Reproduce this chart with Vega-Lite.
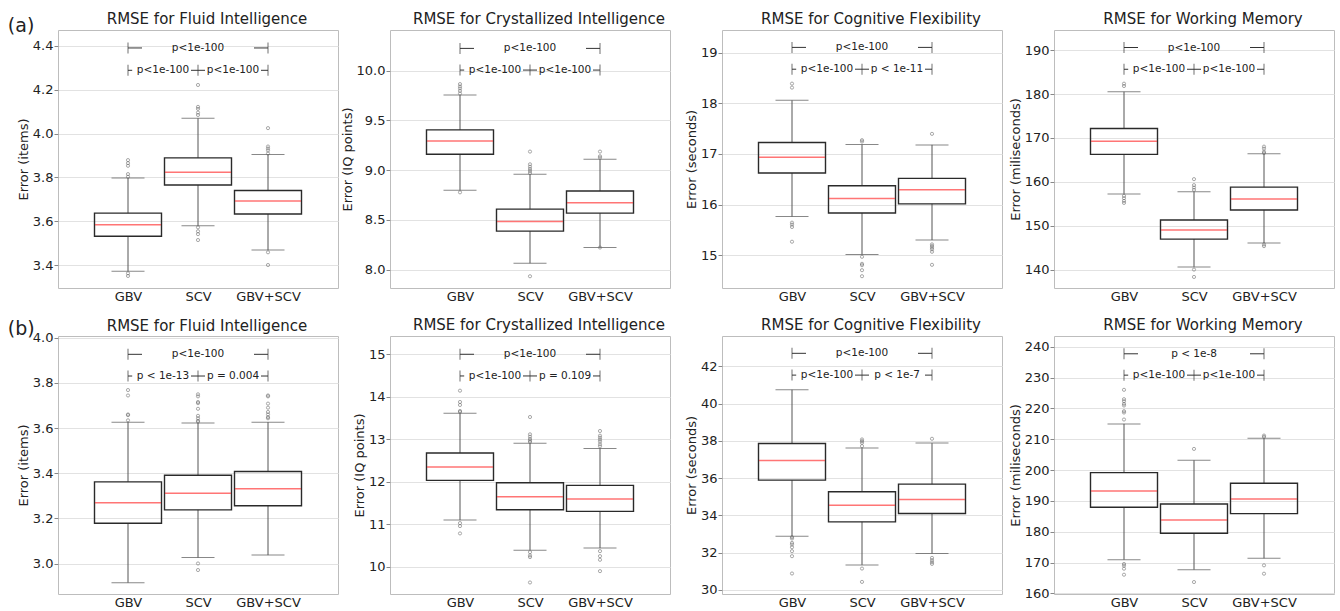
{
"$schema":"https://vega.github.io/schema/vega-lite/v6.json",
"padding":{"left":7,"top":11,"right":0,"bottom":0},
"spacing":13,
"config":{
 "font":"DejaVu Sans",
 "view":{"stroke":"#bdbdbd","strokeWidth":1},
 "axis":{"labelFont":"DejaVu Sans","labelFontSize":13,"labelColor":"#222","titleFont":"DejaVu Sans","titleFontSize":13,"titleFontWeight":"normal","titleColor":"#222","gridColor":"#e2e2e2","tickColor":"#888","tickSize":4,"domain":false,"titlePadding":2,"labelPadding":1,"labelOverlap":false,"tickCount":20},
 "title":{"font":"DejaVu Sans","fontSize":15,"fontWeight":"normal","color":"#222","offset":3,"baseline":"alphabetic"}
},
"datasets":{
"boxes":[
{"p":"a1","i":1,"method":"GBV","lo":3.371,"q1":3.531,"med":3.584,"q3":3.637,"hi":3.797},
{"p":"a1","i":2,"method":"SCV","lo":3.579,"q1":3.765,"med":3.824,"q3":3.889,"hi":4.070},
{"p":"a1","i":3,"method":"GBV+SCV","lo":3.468,"q1":3.633,"med":3.692,"q3":3.740,"hi":3.905},
{"p":"a2","i":1,"method":"GBV","lo":8.797,"q1":9.160,"med":9.294,"q3":9.405,"hi":9.755},
{"p":"a2","i":2,"method":"SCV","lo":8.064,"q1":8.387,"med":8.484,"q3":8.608,"hi":8.958},
{"p":"a2","i":3,"method":"GBV+SCV","lo":8.222,"q1":8.568,"med":8.672,"q3":8.790,"hi":9.109},
{"p":"a3","i":1,"method":"GBV","lo":15.762,"q1":16.623,"med":16.934,"q3":17.225,"hi":18.06},
{"p":"a3","i":2,"method":"SCV","lo":15.013,"q1":15.834,"med":16.119,"q3":16.371,"hi":17.185},
{"p":"a3","i":3,"method":"GBV+SCV","lo":15.298,"q1":16.013,"med":16.291,"q3":16.517,"hi":17.179},
{"p":"a4","i":1,"method":"GBV","lo":157.25,"q1":166.26,"med":169.24,"q3":172.14,"hi":180.53},
{"p":"a4","i":2,"method":"SCV","lo":140.61,"q1":146.95,"med":149.01,"q3":151.30,"hi":157.71},
{"p":"a4","i":3,"method":"GBV+SCV","lo":146.03,"q1":153.59,"med":156.11,"q3":158.78,"hi":166.41},
{"p":"b1","i":1,"method":"GBV","lo":2.916,"q1":3.179,"med":3.270,"q3":3.362,"hi":3.626},
{"p":"b1","i":2,"method":"SCV","lo":3.027,"q1":3.238,"med":3.312,"q3":3.391,"hi":3.622},
{"p":"b1","i":3,"method":"GBV+SCV","lo":3.038,"q1":3.256,"med":3.332,"q3":3.408,"hi":3.626},
{"p":"b2","i":1,"method":"GBV","lo":11.099,"q1":12.033,"med":12.347,"q3":12.677,"hi":13.611},
{"p":"b2","i":2,"method":"SCV","lo":10.392,"q1":11.342,"med":11.648,"q3":11.978,"hi":12.904},
{"p":"b2","i":3,"method":"GBV+SCV","lo":10.44,"q1":11.303,"med":11.593,"q3":11.915,"hi":12.786},
{"p":"b3","i":1,"method":"GBV","lo":32.883,"q1":35.892,"med":36.949,"q3":37.862,"hi":40.746},
{"p":"b3","i":2,"method":"SCV","lo":31.343,"q1":33.653,"med":34.549,"q3":35.265,"hi":37.612},
{"p":"b3","i":3,"method":"GBV+SCV","lo":31.952,"q1":34.101,"med":34.853,"q3":35.677,"hi":37.88},
{"p":"b4","i":1,"method":"GBV","lo":170.93,"q1":187.93,"med":193.23,"q3":199.19,"hi":214.99},
{"p":"b4","i":2,"method":"SCV","lo":167.69,"q1":179.49,"med":183.82,"q3":189.01,"hi":203.19},
{"p":"b4","i":3,"method":"GBV+SCV","lo":171.37,"q1":185.87,"med":190.64,"q3":195.72,"hi":210.34}
],
"outliers":[
{"p":"a1","i":1,"v":3.879},{"p":"a1","i":1,"v":3.865},{"p":"a1","i":1,"v":3.853},{"p":"a1","i":1,"v":3.815},{"p":"a1","i":1,"v":3.803},{"p":"a1","i":1,"v":3.362},{"p":"a1","i":1,"v":3.35},
{"p":"a1","i":2,"v":4.222},{"p":"a1","i":2,"v":4.122},{"p":"a1","i":2,"v":4.113},{"p":"a1","i":2,"v":4.096},{"p":"a1","i":2,"v":4.085},{"p":"a1","i":2,"v":3.572},{"p":"a1","i":2,"v":3.554},{"p":"a1","i":2,"v":3.541},{"p":"a1","i":2,"v":3.514},
{"p":"a1","i":3,"v":4.025},{"p":"a1","i":3,"v":3.941},{"p":"a1","i":3,"v":3.932},{"p":"a1","i":3,"v":3.923},{"p":"a1","i":3,"v":3.909},{"p":"a1","i":3,"v":3.458},{"p":"a1","i":3,"v":3.4},
{"p":"a2","i":1,"v":9.866},{"p":"a2","i":1,"v":9.842},{"p":"a2","i":1,"v":9.822},{"p":"a2","i":1,"v":9.798},{"p":"a2","i":1,"v":9.771},{"p":"a2","i":1,"v":8.777},
{"p":"a2","i":2,"v":9.187},{"p":"a2","i":2,"v":9.059},{"p":"a2","i":2,"v":9.035},{"p":"a2","i":2,"v":9.012},{"p":"a2","i":2,"v":8.992},{"p":"a2","i":2,"v":8.971},{"p":"a2","i":2,"v":7.933},
{"p":"a2","i":3,"v":9.187},{"p":"a2","i":3,"v":9.14},{"p":"a2","i":3,"v":9.126},{"p":"a2","i":3,"v":8.222},
{"p":"a3","i":1,"v":18.39},{"p":"a3","i":1,"v":18.311},{"p":"a3","i":1,"v":15.642},{"p":"a3","i":1,"v":15.603},{"p":"a3","i":1,"v":15.556},{"p":"a3","i":1,"v":15.265},
{"p":"a3","i":2,"v":17.272},{"p":"a3","i":2,"v":17.245},{"p":"a3","i":2,"v":14.967},{"p":"a3","i":2,"v":14.828},{"p":"a3","i":2,"v":14.801},{"p":"a3","i":2,"v":14.702},{"p":"a3","i":2,"v":14.583},
{"p":"a3","i":3,"v":17.397},{"p":"a3","i":3,"v":15.212},{"p":"a3","i":3,"v":15.179},{"p":"a3","i":3,"v":15.146},{"p":"a3","i":3,"v":15.113},{"p":"a3","i":3,"v":15.066},{"p":"a3","i":3,"v":14.808},
{"p":"a4","i":1,"v":182.37},{"p":"a4","i":1,"v":181.83},{"p":"a4","i":1,"v":156.79},{"p":"a4","i":1,"v":156.26},{"p":"a4","i":1,"v":155.65},{"p":"a4","i":1,"v":155.19},
{"p":"a4","i":2,"v":160.61},{"p":"a4","i":2,"v":159.24},{"p":"a4","i":2,"v":158.70},{"p":"a4","i":2,"v":158.17},{"p":"a4","i":2,"v":140.0},{"p":"a4","i":2,"v":138.32},
{"p":"a4","i":3,"v":168.02},{"p":"a4","i":3,"v":167.56},{"p":"a4","i":3,"v":166.87},{"p":"a4","i":3,"v":166.56},{"p":"a4","i":3,"v":145.73},{"p":"a4","i":3,"v":145.34},
{"p":"b1","i":1,"v":3.768},{"p":"b1","i":1,"v":3.744},{"p":"b1","i":1,"v":3.660},{"p":"b1","i":1,"v":3.657},{"p":"b1","i":1,"v":3.634},
{"p":"b1","i":2,"v":3.749},{"p":"b1","i":2,"v":3.74},{"p":"b1","i":2,"v":3.715},{"p":"b1","i":2,"v":3.71},{"p":"b1","i":2,"v":3.685},{"p":"b1","i":2,"v":3.654},{"p":"b1","i":2,"v":3.643},{"p":"b1","i":2,"v":3.632},{"p":"b1","i":2,"v":3.628},{"p":"b1","i":2,"v":3.001},{"p":"b1","i":2,"v":2.972},
{"p":"b1","i":3,"v":3.744},{"p":"b1","i":3,"v":3.74},{"p":"b1","i":3,"v":3.708},{"p":"b1","i":3,"v":3.69},{"p":"b1","i":3,"v":3.671},{"p":"b1","i":3,"v":3.66},{"p":"b1","i":3,"v":3.648},{"p":"b1","i":3,"v":3.643},
{"p":"b2","i":1,"v":14.144},{"p":"b2","i":1,"v":13.878},{"p":"b2","i":1,"v":13.807},{"p":"b2","i":1,"v":13.666},{"p":"b2","i":1,"v":13.642},{"p":"b2","i":1,"v":11.028},{"p":"b2","i":1,"v":10.958},{"p":"b2","i":1,"v":10.785},
{"p":"b2","i":2,"v":13.524},{"p":"b2","i":2,"v":13.116},{"p":"b2","i":2,"v":13.061},{"p":"b2","i":2,"v":13.006},{"p":"b2","i":2,"v":12.967},{"p":"b2","i":2,"v":12.936},{"p":"b2","i":2,"v":10.345},{"p":"b2","i":2,"v":10.267},{"p":"b2","i":2,"v":10.228},{"p":"b2","i":2,"v":9.631},
{"p":"b2","i":3,"v":13.195},{"p":"b2","i":3,"v":13.085},{"p":"b2","i":3,"v":13.038},{"p":"b2","i":3,"v":12.991},{"p":"b2","i":3,"v":12.944},{"p":"b2","i":3,"v":12.881},{"p":"b2","i":3,"v":12.834},{"p":"b2","i":3,"v":10.369},{"p":"b2","i":3,"v":10.251},{"p":"b2","i":3,"v":10.165},{"p":"b2","i":3,"v":9.898},
{"p":"b3","i":1,"v":32.83},{"p":"b3","i":1,"v":32.76},{"p":"b3","i":1,"v":32.525},{"p":"b3","i":1,"v":32.435},{"p":"b3","i":1,"v":32.29},{"p":"b3","i":1,"v":32.08},{"p":"b3","i":1,"v":31.81},{"p":"b3","i":1,"v":30.88},
{"p":"b3","i":2,"v":38.077},{"p":"b3","i":2,"v":37.988},{"p":"b3","i":2,"v":37.898},{"p":"b3","i":2,"v":37.72},{"p":"b3","i":2,"v":31.146},{"p":"b3","i":2,"v":30.43},
{"p":"b3","i":3,"v":38.113},{"p":"b3","i":3,"v":31.719},{"p":"b3","i":3,"v":31.594},{"p":"b3","i":3,"v":31.486},{"p":"b3","i":3,"v":31.396},
{"p":"b4","i":1,"v":226.04},{"p":"b4","i":1,"v":223.0},{"p":"b4","i":1,"v":222.35},{"p":"b4","i":1,"v":221.49},{"p":"b4","i":1,"v":220.95},{"p":"b4","i":1,"v":219.11},{"p":"b4","i":1,"v":218.67},{"p":"b4","i":1,"v":216.4},{"p":"b4","i":1,"v":169.53},{"p":"b4","i":1,"v":168.99},{"p":"b4","i":1,"v":168.01},{"p":"b4","i":1,"v":166.06},
{"p":"b4","i":2,"v":206.87},{"p":"b4","i":2,"v":163.68},
{"p":"b4","i":3,"v":211.2},{"p":"b4","i":3,"v":210.77},{"p":"b4","i":3,"v":169.1},{"p":"b4","i":3,"v":166.39}
],
"segs":[
{"p":"a1","x":1,"x2":1.2,"y":4.391},{"p":"a1","x":2.8,"x2":3,"y":4.391},{"p":"a1","x":1,"x2":1.06,"y":4.289},{"p":"a1","x":1.9,"x2":2.1,"y":4.289},{"p":"a1","x":2.9,"x2":3,"y":4.289},
{"p":"a2","x":1,"x2":1.2,"y":10.225},{"p":"a2","x":2.8,"x2":3,"y":10.225},{"p":"a2","x":1,"x2":1.06,"y":10.007},{"p":"a2","x":1.9,"x2":2.1,"y":10.007},{"p":"a2","x":2.9,"x2":3,"y":10.007},
{"p":"a3","x":1,"x2":1.2,"y":19.106},{"p":"a3","x":2.8,"x2":3,"y":19.106},{"p":"a3","x":1,"x2":1.06,"y":18.675},{"p":"a3","x":1.9,"x2":2.1,"y":18.675},{"p":"a3","x":2.9,"x2":3,"y":18.675},
{"p":"a4","x":1,"x2":1.2,"y":190.61},{"p":"a4","x":2.8,"x2":3,"y":190.61},{"p":"a4","x":1,"x2":1.06,"y":185.65},{"p":"a4","x":1.9,"x2":2.1,"y":185.65},{"p":"a4","x":2.9,"x2":3,"y":185.65},
{"p":"b1","x":1,"x2":1.2,"y":3.926},{"p":"b1","x":2.8,"x2":3,"y":3.926},{"p":"b1","x":1,"x2":1.06,"y":3.830},{"p":"b1","x":1.9,"x2":2.1,"y":3.830},{"p":"b1","x":2.9,"x2":3,"y":3.830},
{"p":"b2","x":1,"x2":1.2,"y":15.0},{"p":"b2","x":2.8,"x2":3,"y":15.0},{"p":"b2","x":1,"x2":1.06,"y":14.49},{"p":"b2","x":1.9,"x2":2.1,"y":14.49},{"p":"b2","x":2.9,"x2":3,"y":14.49},
{"p":"b3","x":1,"x2":1.2,"y":42.70},{"p":"b3","x":2.8,"x2":3,"y":42.70},{"p":"b3","x":1,"x2":1.06,"y":41.53},{"p":"b3","x":1.9,"x2":2.1,"y":41.53},{"p":"b3","x":2.9,"x2":3,"y":41.53},
{"p":"b4","x":1,"x2":1.2,"y":237.73},{"p":"b4","x":2.8,"x2":3,"y":237.73},{"p":"b4","x":1,"x2":1.06,"y":230.8},{"p":"b4","x":1.9,"x2":2.1,"y":230.8},{"p":"b4","x":2.9,"x2":3,"y":230.8}
],
"bticks":[
{"p":"a1","x":1,"y":4.391},{"p":"a1","x":3,"y":4.391},{"p":"a1","x":1,"y":4.289},{"p":"a1","x":2,"y":4.289},{"p":"a1","x":3,"y":4.289},
{"p":"a2","x":1,"y":10.225},{"p":"a2","x":3,"y":10.225},{"p":"a2","x":1,"y":10.007},{"p":"a2","x":2,"y":10.007},{"p":"a2","x":3,"y":10.007},
{"p":"a3","x":1,"y":19.106},{"p":"a3","x":3,"y":19.106},{"p":"a3","x":1,"y":18.675},{"p":"a3","x":2,"y":18.675},{"p":"a3","x":3,"y":18.675},
{"p":"a4","x":1,"y":190.61},{"p":"a4","x":3,"y":190.61},{"p":"a4","x":1,"y":185.65},{"p":"a4","x":2,"y":185.65},{"p":"a4","x":3,"y":185.65},
{"p":"b1","x":1,"y":3.926},{"p":"b1","x":3,"y":3.926},{"p":"b1","x":1,"y":3.830},{"p":"b1","x":2,"y":3.830},{"p":"b1","x":3,"y":3.830},
{"p":"b2","x":1,"y":15.0},{"p":"b2","x":3,"y":15.0},{"p":"b2","x":1,"y":14.49},{"p":"b2","x":2,"y":14.49},{"p":"b2","x":3,"y":14.49},
{"p":"b3","x":1,"y":42.70},{"p":"b3","x":3,"y":42.70},{"p":"b3","x":1,"y":41.53},{"p":"b3","x":2,"y":41.53},{"p":"b3","x":3,"y":41.53},
{"p":"b4","x":1,"y":237.73},{"p":"b4","x":3,"y":237.73},{"p":"b4","x":1,"y":230.8},{"p":"b4","x":2,"y":230.8},{"p":"b4","x":3,"y":230.8}
],
"blabels":[
{"p":"a1","x":2,"y":4.391,"t":"p<1e-100"},{"p":"a1","x":1.5,"y":4.289,"t":"p<1e-100"},{"p":"a1","x":2.5,"y":4.289,"t":"p<1e-100"},
{"p":"a2","x":2,"y":10.225,"t":"p<1e-100"},{"p":"a2","x":1.5,"y":10.007,"t":"p<1e-100"},{"p":"a2","x":2.5,"y":10.007,"t":"p<1e-100"},
{"p":"a3","x":2,"y":19.106,"t":"p<1e-100"},{"p":"a3","x":1.5,"y":18.675,"t":"p<1e-100"},{"p":"a3","x":2.5,"y":18.675,"t":"p < 1e-11"},
{"p":"a4","x":2,"y":190.61,"t":"p<1e-100"},{"p":"a4","x":1.5,"y":185.65,"t":"p<1e-100"},{"p":"a4","x":2.5,"y":185.65,"t":"p<1e-100"},
{"p":"b1","x":2,"y":3.926,"t":"p<1e-100"},{"p":"b1","x":1.5,"y":3.830,"t":"p < 1e-13"},{"p":"b1","x":2.5,"y":3.830,"t":"p = 0.004"},
{"p":"b2","x":2,"y":15.0,"t":"p<1e-100"},{"p":"b2","x":1.5,"y":14.49,"t":"p<1e-100"},{"p":"b2","x":2.5,"y":14.49,"t":"p = 0.109"},
{"p":"b3","x":2,"y":42.70,"t":"p<1e-100"},{"p":"b3","x":1.5,"y":41.53,"t":"p<1e-100"},{"p":"b3","x":2.5,"y":41.53,"t":"p < 1e-7"},
{"p":"b4","x":2,"y":237.73,"t":"p < 1e-8"},{"p":"b4","x":1.5,"y":230.8,"t":"p<1e-100"},{"p":"b4","x":2.5,"y":230.8,"t":"p<1e-100"}
]
},
"vconcat":[
{"title":{"text":"(a)","anchor":"start","frame":"bounds","fontSize":19,"offset":-24,"dx":-9},
 "bounds":"flush","spacing":52,
 "hconcat":[
  {"width":280,"height":258,"title":{"text":"RMSE for Fluid Intelligence","dx":9},"layer":[
   {"data":{"name":"boxes"},"transform":[{"filter":"datum.p==='a1'"}],"mark":{"type":"rule","color":"#555","strokeWidth":1},"encoding":{"x":{"field":"i","type":"quantitative","scale":{"domain":[0.5,3.5]},"axis":{"values":[1,2,3],"labelExpr":"datum.value==1?'GBV':datum.value==2?'SCV':'GBV+SCV'","grid":false,"ticks":false,"domain":false,"title":null,"labelPadding":2}},"y":{"field":"lo","type":"quantitative","scale":{"domain":[3.295,4.473],"nice":false,"zero":false},"axis":{"title":"Error (items)","values":[3.4,3.6,3.8,4.0,4.2,4.4],"format":".1f","labelOverlap":false}},"y2":{"field":"q1"}}},
   {"data":{"name":"boxes"},"transform":[{"filter":"datum.p==='a1'"}],"mark":{"type":"rule","color":"#555","strokeWidth":1},"encoding":{"x":{"field":"i","type":"quantitative"},"y":{"field":"q3","type":"quantitative"},"y2":{"field":"hi"}}},
   {"data":{"name":"boxes"},"transform":[{"filter":"datum.p==='a1'"}],"mark":{"type":"bar","filled":false,"color":"#2a2a2a","strokeWidth":1.4,"size":67},"encoding":{"x":{"field":"i","type":"quantitative"},"y":{"field":"q1","type":"quantitative"},"y2":{"field":"q3"}}},
   {"data":{"name":"boxes"},"transform":[{"filter":"datum.p==='a1'"},{"fold":["lo","hi"],"as":["k","cap"]}],"mark":{"type":"tick","orient":"horizontal","color":"#555","size":33,"thickness":1},"encoding":{"x":{"field":"i","type":"quantitative"},"y":{"field":"cap","type":"quantitative"}}},
   {"data":{"name":"boxes"},"transform":[{"filter":"datum.p==='a1'"}],"mark":{"type":"tick","orient":"horizontal","color":"#ff3b3b","size":66,"thickness":1.5},"encoding":{"x":{"field":"i","type":"quantitative"},"y":{"field":"med","type":"quantitative"}}},
   {"data":{"name":"outliers"},"transform":[{"filter":"datum.p==='a1'"}],"mark":{"type":"point","shape":"circle","size":10,"filled":false,"color":"#666","strokeWidth":0.8},"encoding":{"x":{"field":"i","type":"quantitative"},"y":{"field":"v","type":"quantitative"}}},
   {"data":{"name":"segs"},"transform":[{"filter":"datum.p==='a1'"}],"mark":{"type":"rule","color":"#333","strokeWidth":1},"encoding":{"x":{"field":"x","type":"quantitative"},"x2":{"field":"x2"},"y":{"field":"y","type":"quantitative"}}},
   {"data":{"name":"bticks"},"transform":[{"filter":"datum.p==='a1'"}],"mark":{"type":"tick","orient":"vertical","color":"#333","size":11,"thickness":1},"encoding":{"x":{"field":"x","type":"quantitative"},"y":{"field":"y","type":"quantitative"}}},
   {"data":{"name":"blabels"},"transform":[{"filter":"datum.p==='a1'"}],"mark":{"type":"text","font":"DejaVu Sans","fontSize":10.5,"color":"#222","baseline":"middle","align":"center"},"encoding":{"x":{"field":"x","type":"quantitative"},"y":{"field":"y","type":"quantitative"},"text":{"field":"t"}}}
  ]},
  {"width":280,"height":258,"title":{"text":"RMSE for Crystallized Intelligence","dx":9},"layer":[
   {"data":{"name":"boxes"},"transform":[{"filter":"datum.p==='a2'"}],"mark":{"type":"rule","color":"#555","strokeWidth":1},"encoding":{"x":{"field":"i","type":"quantitative","scale":{"domain":[0.5,3.5]},"axis":{"values":[1,2,3],"labelExpr":"datum.value==1?'GBV':datum.value==2?'SCV':'GBV+SCV'","grid":false,"ticks":false,"domain":false,"title":null,"labelPadding":2}},"y":{"field":"lo","type":"quantitative","scale":{"domain":[7.815,10.41],"nice":false,"zero":false},"axis":{"title":"Error (IQ points)","values":[8.0,8.5,9.0,9.5,10.0],"format":".1f","labelOverlap":false}},"y2":{"field":"q1"}}},
   {"data":{"name":"boxes"},"transform":[{"filter":"datum.p==='a2'"}],"mark":{"type":"rule","color":"#555","strokeWidth":1},"encoding":{"x":{"field":"i","type":"quantitative"},"y":{"field":"q3","type":"quantitative"},"y2":{"field":"hi"}}},
   {"data":{"name":"boxes"},"transform":[{"filter":"datum.p==='a2'"}],"mark":{"type":"bar","filled":false,"color":"#2a2a2a","strokeWidth":1.4,"size":67},"encoding":{"x":{"field":"i","type":"quantitative"},"y":{"field":"q1","type":"quantitative"},"y2":{"field":"q3"}}},
   {"data":{"name":"boxes"},"transform":[{"filter":"datum.p==='a2'"},{"fold":["lo","hi"],"as":["k","cap"]}],"mark":{"type":"tick","orient":"horizontal","color":"#555","size":33,"thickness":1},"encoding":{"x":{"field":"i","type":"quantitative"},"y":{"field":"cap","type":"quantitative"}}},
   {"data":{"name":"boxes"},"transform":[{"filter":"datum.p==='a2'"}],"mark":{"type":"tick","orient":"horizontal","color":"#ff3b3b","size":66,"thickness":1.5},"encoding":{"x":{"field":"i","type":"quantitative"},"y":{"field":"med","type":"quantitative"}}},
   {"data":{"name":"outliers"},"transform":[{"filter":"datum.p==='a2'"}],"mark":{"type":"point","shape":"circle","size":10,"filled":false,"color":"#666","strokeWidth":0.8},"encoding":{"x":{"field":"i","type":"quantitative"},"y":{"field":"v","type":"quantitative"}}},
   {"data":{"name":"segs"},"transform":[{"filter":"datum.p==='a2'"}],"mark":{"type":"rule","color":"#333","strokeWidth":1},"encoding":{"x":{"field":"x","type":"quantitative"},"x2":{"field":"x2"},"y":{"field":"y","type":"quantitative"}}},
   {"data":{"name":"bticks"},"transform":[{"filter":"datum.p==='a2'"}],"mark":{"type":"tick","orient":"vertical","color":"#333","size":11,"thickness":1},"encoding":{"x":{"field":"x","type":"quantitative"},"y":{"field":"y","type":"quantitative"}}},
   {"data":{"name":"blabels"},"transform":[{"filter":"datum.p==='a2'"}],"mark":{"type":"text","font":"DejaVu Sans","fontSize":10.5,"color":"#222","baseline":"middle","align":"center"},"encoding":{"x":{"field":"x","type":"quantitative"},"y":{"field":"y","type":"quantitative"},"text":{"field":"t"}}}
  ]},
  {"width":280,"height":258,"title":{"text":"RMSE for Cognitive Flexibility","dx":9},"layer":[
   {"data":{"name":"boxes"},"transform":[{"filter":"datum.p==='a3'"}],"mark":{"type":"rule","color":"#555","strokeWidth":1},"encoding":{"x":{"field":"i","type":"quantitative","scale":{"domain":[0.5,3.5]},"axis":{"values":[1,2,3],"labelExpr":"datum.value==1?'GBV':datum.value==2?'SCV':'GBV+SCV'","grid":false,"ticks":false,"domain":false,"title":null,"labelPadding":2}},"y":{"field":"lo","type":"quantitative","scale":{"domain":[14.35,19.45],"nice":false,"zero":false},"axis":{"title":"Error (seconds)","values":[15,16,17,18,19],"format":"d","labelOverlap":false}},"y2":{"field":"q1"}}},
   {"data":{"name":"boxes"},"transform":[{"filter":"datum.p==='a3'"}],"mark":{"type":"rule","color":"#555","strokeWidth":1},"encoding":{"x":{"field":"i","type":"quantitative"},"y":{"field":"q3","type":"quantitative"},"y2":{"field":"hi"}}},
   {"data":{"name":"boxes"},"transform":[{"filter":"datum.p==='a3'"}],"mark":{"type":"bar","filled":false,"color":"#2a2a2a","strokeWidth":1.4,"size":67},"encoding":{"x":{"field":"i","type":"quantitative"},"y":{"field":"q1","type":"quantitative"},"y2":{"field":"q3"}}},
   {"data":{"name":"boxes"},"transform":[{"filter":"datum.p==='a3'"},{"fold":["lo","hi"],"as":["k","cap"]}],"mark":{"type":"tick","orient":"horizontal","color":"#555","size":33,"thickness":1},"encoding":{"x":{"field":"i","type":"quantitative"},"y":{"field":"cap","type":"quantitative"}}},
   {"data":{"name":"boxes"},"transform":[{"filter":"datum.p==='a3'"}],"mark":{"type":"tick","orient":"horizontal","color":"#ff3b3b","size":66,"thickness":1.5},"encoding":{"x":{"field":"i","type":"quantitative"},"y":{"field":"med","type":"quantitative"}}},
   {"data":{"name":"outliers"},"transform":[{"filter":"datum.p==='a3'"}],"mark":{"type":"point","shape":"circle","size":10,"filled":false,"color":"#666","strokeWidth":0.8},"encoding":{"x":{"field":"i","type":"quantitative"},"y":{"field":"v","type":"quantitative"}}},
   {"data":{"name":"segs"},"transform":[{"filter":"datum.p==='a3'"}],"mark":{"type":"rule","color":"#333","strokeWidth":1},"encoding":{"x":{"field":"x","type":"quantitative"},"x2":{"field":"x2"},"y":{"field":"y","type":"quantitative"}}},
   {"data":{"name":"bticks"},"transform":[{"filter":"datum.p==='a3'"}],"mark":{"type":"tick","orient":"vertical","color":"#333","size":11,"thickness":1},"encoding":{"x":{"field":"x","type":"quantitative"},"y":{"field":"y","type":"quantitative"}}},
   {"data":{"name":"blabels"},"transform":[{"filter":"datum.p==='a3'"}],"mark":{"type":"text","font":"DejaVu Sans","fontSize":10.5,"color":"#222","baseline":"middle","align":"center"},"encoding":{"x":{"field":"x","type":"quantitative"},"y":{"field":"y","type":"quantitative"},"text":{"field":"t"}}}
  ]},
  {"width":280,"height":258,"title":{"text":"RMSE for Working Memory","dx":9},"layer":[
   {"data":{"name":"boxes"},"transform":[{"filter":"datum.p==='a4'"}],"mark":{"type":"rule","color":"#555","strokeWidth":1},"encoding":{"x":{"field":"i","type":"quantitative","scale":{"domain":[0.5,3.5]},"axis":{"values":[1,2,3],"labelExpr":"datum.value==1?'GBV':datum.value==2?'SCV':'GBV+SCV'","grid":false,"ticks":false,"domain":false,"title":null,"labelPadding":2}},"y":{"field":"lo","type":"quantitative","scale":{"domain":[135.8,194.6],"nice":false,"zero":false},"axis":{"title":"Error (miliseconds)","values":[140,150,160,170,180,190],"format":"d","labelOverlap":false}},"y2":{"field":"q1"}}},
   {"data":{"name":"boxes"},"transform":[{"filter":"datum.p==='a4'"}],"mark":{"type":"rule","color":"#555","strokeWidth":1},"encoding":{"x":{"field":"i","type":"quantitative"},"y":{"field":"q3","type":"quantitative"},"y2":{"field":"hi"}}},
   {"data":{"name":"boxes"},"transform":[{"filter":"datum.p==='a4'"}],"mark":{"type":"bar","filled":false,"color":"#2a2a2a","strokeWidth":1.4,"size":67},"encoding":{"x":{"field":"i","type":"quantitative"},"y":{"field":"q1","type":"quantitative"},"y2":{"field":"q3"}}},
   {"data":{"name":"boxes"},"transform":[{"filter":"datum.p==='a4'"},{"fold":["lo","hi"],"as":["k","cap"]}],"mark":{"type":"tick","orient":"horizontal","color":"#555","size":33,"thickness":1},"encoding":{"x":{"field":"i","type":"quantitative"},"y":{"field":"cap","type":"quantitative"}}},
   {"data":{"name":"boxes"},"transform":[{"filter":"datum.p==='a4'"}],"mark":{"type":"tick","orient":"horizontal","color":"#ff3b3b","size":66,"thickness":1.5},"encoding":{"x":{"field":"i","type":"quantitative"},"y":{"field":"med","type":"quantitative"}}},
   {"data":{"name":"outliers"},"transform":[{"filter":"datum.p==='a4'"}],"mark":{"type":"point","shape":"circle","size":10,"filled":false,"color":"#666","strokeWidth":0.8},"encoding":{"x":{"field":"i","type":"quantitative"},"y":{"field":"v","type":"quantitative"}}},
   {"data":{"name":"segs"},"transform":[{"filter":"datum.p==='a4'"}],"mark":{"type":"rule","color":"#333","strokeWidth":1},"encoding":{"x":{"field":"x","type":"quantitative"},"x2":{"field":"x2"},"y":{"field":"y","type":"quantitative"}}},
   {"data":{"name":"bticks"},"transform":[{"filter":"datum.p==='a4'"}],"mark":{"type":"tick","orient":"vertical","color":"#333","size":11,"thickness":1},"encoding":{"x":{"field":"x","type":"quantitative"},"y":{"field":"y","type":"quantitative"}}},
   {"data":{"name":"blabels"},"transform":[{"filter":"datum.p==='a4'"}],"mark":{"type":"text","font":"DejaVu Sans","fontSize":10.5,"color":"#222","baseline":"middle","align":"center"},"encoding":{"x":{"field":"x","type":"quantitative"},"y":{"field":"y","type":"quantitative"},"text":{"field":"t"}}}
  ]}
 ]},
{"title":{"text":"(b)","anchor":"start","frame":"bounds","fontSize":19,"offset":-21,"dx":-9},
 "bounds":"flush","spacing":52,
 "hconcat":[
  {"width":280,"height":258,"title":{"text":"RMSE for Fluid Intelligence","dx":9,"offset":-2},"layer":[
   {"data":{"name":"boxes"},"transform":[{"filter":"datum.p==='b1'"}],"mark":{"type":"rule","color":"#555","strokeWidth":1},"encoding":{"x":{"field":"i","type":"quantitative","scale":{"domain":[0.5,3.5]},"axis":{"values":[1,2,3],"labelExpr":"datum.value==1?'GBV':datum.value==2?'SCV':'GBV+SCV'","grid":false,"ticks":false,"domain":false,"title":null,"labelPadding":2}},"y":{"field":"lo","type":"quantitative","scale":{"domain":[2.866,4.007],"nice":false,"zero":false},"axis":{"title":"Error (items)","values":[3.0,3.2,3.4,3.6,3.8,4.0],"format":".1f","labelOverlap":false}},"y2":{"field":"q1"}}},
   {"data":{"name":"boxes"},"transform":[{"filter":"datum.p==='b1'"}],"mark":{"type":"rule","color":"#555","strokeWidth":1},"encoding":{"x":{"field":"i","type":"quantitative"},"y":{"field":"q3","type":"quantitative"},"y2":{"field":"hi"}}},
   {"data":{"name":"boxes"},"transform":[{"filter":"datum.p==='b1'"}],"mark":{"type":"bar","filled":false,"color":"#2a2a2a","strokeWidth":1.4,"size":67},"encoding":{"x":{"field":"i","type":"quantitative"},"y":{"field":"q1","type":"quantitative"},"y2":{"field":"q3"}}},
   {"data":{"name":"boxes"},"transform":[{"filter":"datum.p==='b1'"},{"fold":["lo","hi"],"as":["k","cap"]}],"mark":{"type":"tick","orient":"horizontal","color":"#555","size":33,"thickness":1},"encoding":{"x":{"field":"i","type":"quantitative"},"y":{"field":"cap","type":"quantitative"}}},
   {"data":{"name":"boxes"},"transform":[{"filter":"datum.p==='b1'"}],"mark":{"type":"tick","orient":"horizontal","color":"#ff3b3b","size":66,"thickness":1.5},"encoding":{"x":{"field":"i","type":"quantitative"},"y":{"field":"med","type":"quantitative"}}},
   {"data":{"name":"outliers"},"transform":[{"filter":"datum.p==='b1'"}],"mark":{"type":"point","shape":"circle","size":10,"filled":false,"color":"#666","strokeWidth":0.8},"encoding":{"x":{"field":"i","type":"quantitative"},"y":{"field":"v","type":"quantitative"}}},
   {"data":{"name":"segs"},"transform":[{"filter":"datum.p==='b1'"}],"mark":{"type":"rule","color":"#333","strokeWidth":1},"encoding":{"x":{"field":"x","type":"quantitative"},"x2":{"field":"x2"},"y":{"field":"y","type":"quantitative"}}},
   {"data":{"name":"bticks"},"transform":[{"filter":"datum.p==='b1'"}],"mark":{"type":"tick","orient":"vertical","color":"#333","size":11,"thickness":1},"encoding":{"x":{"field":"x","type":"quantitative"},"y":{"field":"y","type":"quantitative"}}},
   {"data":{"name":"blabels"},"transform":[{"filter":"datum.p==='b1'"}],"mark":{"type":"text","font":"DejaVu Sans","fontSize":10.5,"color":"#222","baseline":"middle","align":"center"},"encoding":{"x":{"field":"x","type":"quantitative"},"y":{"field":"y","type":"quantitative"},"text":{"field":"t"}}}
  ]},
  {"width":280,"height":258,"title":{"text":"RMSE for Crystallized Intelligence","dx":9},"layer":[
   {"data":{"name":"boxes"},"transform":[{"filter":"datum.p==='b2'"}],"mark":{"type":"rule","color":"#555","strokeWidth":1},"encoding":{"x":{"field":"i","type":"quantitative","scale":{"domain":[0.5,3.5]},"axis":{"values":[1,2,3],"labelExpr":"datum.value==1?'GBV':datum.value==2?'SCV':'GBV+SCV'","grid":false,"ticks":false,"domain":false,"title":null,"labelPadding":2}},"y":{"field":"lo","type":"quantitative","scale":{"domain":[9.36,15.43],"nice":false,"zero":false},"axis":{"title":"Error (IQ points)","values":[10,11,12,13,14,15],"format":"d","labelOverlap":false}},"y2":{"field":"q1"}}},
   {"data":{"name":"boxes"},"transform":[{"filter":"datum.p==='b2'"}],"mark":{"type":"rule","color":"#555","strokeWidth":1},"encoding":{"x":{"field":"i","type":"quantitative"},"y":{"field":"q3","type":"quantitative"},"y2":{"field":"hi"}}},
   {"data":{"name":"boxes"},"transform":[{"filter":"datum.p==='b2'"}],"mark":{"type":"bar","filled":false,"color":"#2a2a2a","strokeWidth":1.4,"size":67},"encoding":{"x":{"field":"i","type":"quantitative"},"y":{"field":"q1","type":"quantitative"},"y2":{"field":"q3"}}},
   {"data":{"name":"boxes"},"transform":[{"filter":"datum.p==='b2'"},{"fold":["lo","hi"],"as":["k","cap"]}],"mark":{"type":"tick","orient":"horizontal","color":"#555","size":33,"thickness":1},"encoding":{"x":{"field":"i","type":"quantitative"},"y":{"field":"cap","type":"quantitative"}}},
   {"data":{"name":"boxes"},"transform":[{"filter":"datum.p==='b2'"}],"mark":{"type":"tick","orient":"horizontal","color":"#ff3b3b","size":66,"thickness":1.5},"encoding":{"x":{"field":"i","type":"quantitative"},"y":{"field":"med","type":"quantitative"}}},
   {"data":{"name":"outliers"},"transform":[{"filter":"datum.p==='b2'"}],"mark":{"type":"point","shape":"circle","size":10,"filled":false,"color":"#666","strokeWidth":0.8},"encoding":{"x":{"field":"i","type":"quantitative"},"y":{"field":"v","type":"quantitative"}}},
   {"data":{"name":"segs"},"transform":[{"filter":"datum.p==='b2'"}],"mark":{"type":"rule","color":"#333","strokeWidth":1},"encoding":{"x":{"field":"x","type":"quantitative"},"x2":{"field":"x2"},"y":{"field":"y","type":"quantitative"}}},
   {"data":{"name":"bticks"},"transform":[{"filter":"datum.p==='b2'"}],"mark":{"type":"tick","orient":"vertical","color":"#333","size":11,"thickness":1},"encoding":{"x":{"field":"x","type":"quantitative"},"y":{"field":"y","type":"quantitative"}}},
   {"data":{"name":"blabels"},"transform":[{"filter":"datum.p==='b2'"}],"mark":{"type":"text","font":"DejaVu Sans","fontSize":10.5,"color":"#222","baseline":"middle","align":"center"},"encoding":{"x":{"field":"x","type":"quantitative"},"y":{"field":"y","type":"quantitative"},"text":{"field":"t"}}}
  ]},
  {"width":280,"height":258,"title":{"text":"RMSE for Cognitive Flexibility","dx":9},"layer":[
   {"data":{"name":"boxes"},"transform":[{"filter":"datum.p==='b3'"}],"mark":{"type":"rule","color":"#555","strokeWidth":1},"encoding":{"x":{"field":"i","type":"quantitative","scale":{"domain":[0.5,3.5]},"axis":{"values":[1,2,3],"labelExpr":"datum.value==1?'GBV':datum.value==2?'SCV':'GBV+SCV'","grid":false,"ticks":false,"domain":false,"title":null,"labelPadding":2}},"y":{"field":"lo","type":"quantitative","scale":{"domain":[29.78,43.63],"nice":false,"zero":false},"axis":{"title":"Error (seconds)","values":[30,32,34,36,38,40,42],"format":"d","labelOverlap":false}},"y2":{"field":"q1"}}},
   {"data":{"name":"boxes"},"transform":[{"filter":"datum.p==='b3'"}],"mark":{"type":"rule","color":"#555","strokeWidth":1},"encoding":{"x":{"field":"i","type":"quantitative"},"y":{"field":"q3","type":"quantitative"},"y2":{"field":"hi"}}},
   {"data":{"name":"boxes"},"transform":[{"filter":"datum.p==='b3'"}],"mark":{"type":"bar","filled":false,"color":"#2a2a2a","strokeWidth":1.4,"size":67},"encoding":{"x":{"field":"i","type":"quantitative"},"y":{"field":"q1","type":"quantitative"},"y2":{"field":"q3"}}},
   {"data":{"name":"boxes"},"transform":[{"filter":"datum.p==='b3'"},{"fold":["lo","hi"],"as":["k","cap"]}],"mark":{"type":"tick","orient":"horizontal","color":"#555","size":33,"thickness":1},"encoding":{"x":{"field":"i","type":"quantitative"},"y":{"field":"cap","type":"quantitative"}}},
   {"data":{"name":"boxes"},"transform":[{"filter":"datum.p==='b3'"}],"mark":{"type":"tick","orient":"horizontal","color":"#ff3b3b","size":66,"thickness":1.5},"encoding":{"x":{"field":"i","type":"quantitative"},"y":{"field":"med","type":"quantitative"}}},
   {"data":{"name":"outliers"},"transform":[{"filter":"datum.p==='b3'"}],"mark":{"type":"point","shape":"circle","size":10,"filled":false,"color":"#666","strokeWidth":0.8},"encoding":{"x":{"field":"i","type":"quantitative"},"y":{"field":"v","type":"quantitative"}}},
   {"data":{"name":"segs"},"transform":[{"filter":"datum.p==='b3'"}],"mark":{"type":"rule","color":"#333","strokeWidth":1},"encoding":{"x":{"field":"x","type":"quantitative"},"x2":{"field":"x2"},"y":{"field":"y","type":"quantitative"}}},
   {"data":{"name":"bticks"},"transform":[{"filter":"datum.p==='b3'"}],"mark":{"type":"tick","orient":"vertical","color":"#333","size":11,"thickness":1},"encoding":{"x":{"field":"x","type":"quantitative"},"y":{"field":"y","type":"quantitative"}}},
   {"data":{"name":"blabels"},"transform":[{"filter":"datum.p==='b3'"}],"mark":{"type":"text","font":"DejaVu Sans","fontSize":10.5,"color":"#222","baseline":"middle","align":"center"},"encoding":{"x":{"field":"x","type":"quantitative"},"y":{"field":"y","type":"quantitative"},"text":{"field":"t"}}}
  ]},
  {"width":280,"height":258,"title":{"text":"RMSE for Working Memory","dx":9},"layer":[
   {"data":{"name":"boxes"},"transform":[{"filter":"datum.p==='b4'"}],"mark":{"type":"rule","color":"#555","strokeWidth":1},"encoding":{"x":{"field":"i","type":"quantitative","scale":{"domain":[0.5,3.5]},"axis":{"values":[1,2,3],"labelExpr":"datum.value==1?'GBV':datum.value==2?'SCV':'GBV+SCV'","grid":false,"ticks":false,"domain":false,"title":null,"labelPadding":2}},"y":{"field":"lo","type":"quantitative","scale":{"domain":[159.8,243.5],"nice":false,"zero":false},"axis":{"title":"Error (miliseconds)","values":[160,170,180,190,200,210,220,230,240],"format":"d","labelOverlap":false,"tickCount":20}},"y2":{"field":"q1"}}},
   {"data":{"name":"boxes"},"transform":[{"filter":"datum.p==='b4'"}],"mark":{"type":"rule","color":"#555","strokeWidth":1},"encoding":{"x":{"field":"i","type":"quantitative"},"y":{"field":"q3","type":"quantitative"},"y2":{"field":"hi"}}},
   {"data":{"name":"boxes"},"transform":[{"filter":"datum.p==='b4'"}],"mark":{"type":"bar","filled":false,"color":"#2a2a2a","strokeWidth":1.4,"size":67},"encoding":{"x":{"field":"i","type":"quantitative"},"y":{"field":"q1","type":"quantitative"},"y2":{"field":"q3"}}},
   {"data":{"name":"boxes"},"transform":[{"filter":"datum.p==='b4'"},{"fold":["lo","hi"],"as":["k","cap"]}],"mark":{"type":"tick","orient":"horizontal","color":"#555","size":33,"thickness":1},"encoding":{"x":{"field":"i","type":"quantitative"},"y":{"field":"cap","type":"quantitative"}}},
   {"data":{"name":"boxes"},"transform":[{"filter":"datum.p==='b4'"}],"mark":{"type":"tick","orient":"horizontal","color":"#ff3b3b","size":66,"thickness":1.5},"encoding":{"x":{"field":"i","type":"quantitative"},"y":{"field":"med","type":"quantitative"}}},
   {"data":{"name":"outliers"},"transform":[{"filter":"datum.p==='b4'"}],"mark":{"type":"point","shape":"circle","size":10,"filled":false,"color":"#666","strokeWidth":0.8},"encoding":{"x":{"field":"i","type":"quantitative"},"y":{"field":"v","type":"quantitative"}}},
   {"data":{"name":"segs"},"transform":[{"filter":"datum.p==='b4'"}],"mark":{"type":"rule","color":"#333","strokeWidth":1},"encoding":{"x":{"field":"x","type":"quantitative"},"x2":{"field":"x2"},"y":{"field":"y","type":"quantitative"}}},
   {"data":{"name":"bticks"},"transform":[{"filter":"datum.p==='b4'"}],"mark":{"type":"tick","orient":"vertical","color":"#333","size":11,"thickness":1},"encoding":{"x":{"field":"x","type":"quantitative"},"y":{"field":"y","type":"quantitative"}}},
   {"data":{"name":"blabels"},"transform":[{"filter":"datum.p==='b4'"}],"mark":{"type":"text","font":"DejaVu Sans","fontSize":10.5,"color":"#222","baseline":"middle","align":"center"},"encoding":{"x":{"field":"x","type":"quantitative"},"y":{"field":"y","type":"quantitative"},"text":{"field":"t"}}}
  ]}
 ]}
]
}
